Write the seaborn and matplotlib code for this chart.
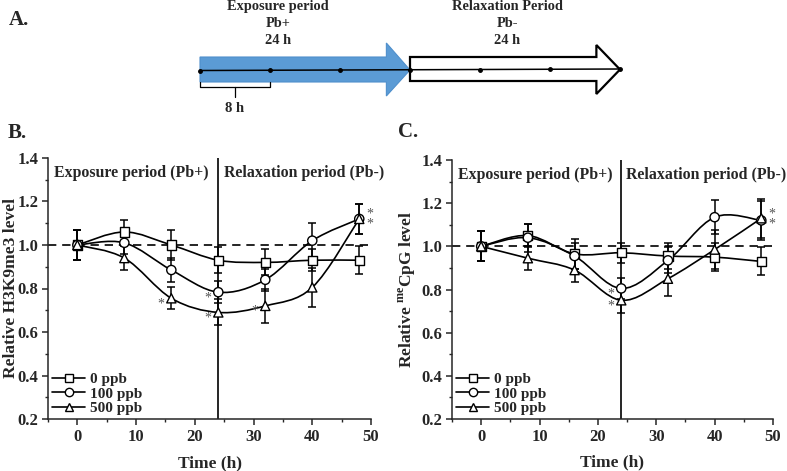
import numpy as np
import pandas as pd
import matplotlib
matplotlib.use("Agg")
import matplotlib.pyplot as plt
import seaborn as sns
from matplotlib.path import Path
from matplotlib.patches import PathPatch, Polygon
from matplotlib.lines import Line2D
from matplotlib.ticker import MultipleLocator

# ---- data ----
time_h = [0, 8, 16, 24, 32, 40, 48]
doses = ["0 ppb", "100 ppb", "500 ppb"]

# panel B: relative H3K9me3 level
h3k9_0 = [1.00, 1.06, 1.00, 0.93, 0.92, 0.93, 0.93]
h3k9_0_sd = [0.07, 0.055, 0.067, 0.06, 0.06, 0.05, 0.065]
h3k9_100 = [1.00, 1.01, 0.885, 0.783, 0.84, 1.02, 1.12]
h3k9_100_sd = [0.07, 0.05, 0.055, 0.05, 0.05, 0.08, 0.07]
h3k9_500 = [1.00, 0.94, 0.755, 0.69, 0.72, 0.805, 1.12]
h3k9_500_sd = [0.07, 0.055, 0.05, 0.06, 0.08, 0.09, 0.07]

# panel C: relative meCpG level
mecpg_0 = [1.00, 1.05, 0.965, 0.97, 0.955, 0.95, 0.93]
mecpg_0_sd = [0.07, 0.055, 0.07, 0.045, 0.06, 0.065, 0.065]
mecpg_100 = [1.00, 1.04, 0.955, 0.805, 0.935, 1.135, 1.12]
mecpg_100_sd = [0.07, 0.065, 0.06, 0.05, 0.06, 0.08, 0.09]
mecpg_500 = [1.00, 0.945, 0.89, 0.75, 0.85, 0.985, 1.13]
mecpg_500_sd = [0.07, 0.055, 0.055, 0.06, 0.08, 0.09, 0.09]

# significant points: marked left of the marker, and paired marks right of the last point
sig_left_b = [(16, "500 ppb"), (24, "100 ppb"), (24, "500 ppb"), (32, "500 ppb")]
sig_right_b = [(48, ["100 ppb", "500 ppb"])]
sig_left_c = [(24, "100 ppb"), (24, "500 ppb")]
sig_right_c = [(48, ["500 ppb", "100 ppb"])]

markers = {"0 ppb": "s", "100 ppb": "o", "500 ppb": "^"}


def make_frame(vals, sds):
    rows = []
    for dose, v, s in zip(doses, vals, sds):
        for t, a, b in zip(time_h, v, s):
            rows.append({"time": t, "level": a, "sd": b, "dose": dose})
    return pd.DataFrame(rows)


df_b = make_frame([h3k9_0, h3k9_100, h3k9_500], [h3k9_0_sd, h3k9_100_sd, h3k9_500_sd])
df_c = make_frame([mecpg_0, mecpg_100, mecpg_500], [mecpg_0_sd, mecpg_100_sd, mecpg_500_sd])

# ---- style ----
sns.set_theme(style="ticks")
plt.rcParams["font.family"] = ["Liberation Serif", "DejaVu Serif"]
plt.rcParams["font.weight"] = "bold"
plt.rcParams["axes.labelweight"] = "bold"
plt.rcParams["mathtext.fontset"] = "custom"
plt.rcParams["mathtext.rm"] = "Liberation Serif:bold"
plt.rcParams["mathtext.bf"] = "Liberation Serif:bold"
plt.rcParams["axes.linewidth"] = 1.1


def smooth_curve(ax, x, y, **kw):
    # Catmull-Rom through the points, drawn as cubic Bezier path
    pts = np.column_stack([x, y]).astype(float)
    ext = np.vstack([pts[0], pts, pts[-1]])
    verts = [pts[0]]
    codes = [Path.MOVETO]
    for i in range(1, len(ext) - 2):
        p0, p1, p2, p3 = ext[i - 1], ext[i], ext[i + 1], ext[i + 2]
        verts += [p1 + (p2 - p0) / 6, p2 - (p3 - p1) / 6, p2]
        codes += [Path.CURVE4] * 3
    ax.add_patch(PathPatch(Path(verts, codes), fill=False, **kw))


def level_at(df, t, dose):
    return df[(df["time"] == t) & (df["dose"] == dose)]["level"].iloc[0]


def draw_panel(ax, df, ylabel, sig_left, sig_right):
    ax.axhline(1.0, color="black", lw=1.2, ls=(0, (5, 3.5)), zorder=1)
    ax.axvline(24, color="black", lw=1.2, zorder=1)
    for dose in doses:
        d = df[df["dose"] == dose]
        ax.errorbar(d["time"], d["level"], yerr=d["sd"], fmt="none",
                    ecolor="black", elinewidth=1.1, capsize=3, capthick=1.1, zorder=2)
        smooth_curve(ax, d["time"], d["level"], color="black", lw=1.2, zorder=3)
    sns.scatterplot(data=df, x="time", y="level", style="dose", markers=markers,
                    color="white", edgecolor="black", linewidth=1.0, s=44,
                    legend=False, ax=ax, zorder=4)
    for t, dose in sig_left:
        v = level_at(df, t, dose)
        ax.text(t - 1.8, v - 0.025, "*", color="#555555", fontsize=10,
                ha="center", va="center", fontweight="normal")
    for t, pair in sig_right:
        v = np.mean([level_at(df, t, d) for d in pair])
        ax.text(t + 1.8, v, "*\n*", color="#555555", fontsize=10, linespacing=0.7,
                ha="center", va="center", fontweight="normal", clip_on=False)
    ax.text(9.2, 1.33, "Exposure period (Pb+)", ha="center", va="center", fontsize=11.4)
    ax.text(38.6, 1.33, "Relaxation period (Pb-)", ha="center", va="center",
            fontsize=11.4, clip_on=False)

    ax.set_xlim(-5, 50)
    ax.set_ylim(0.2, 1.4)
    ax.xaxis.set_major_locator(MultipleLocator(10))
    ax.xaxis.set_minor_locator(MultipleLocator(5))
    ax.yaxis.set_major_locator(MultipleLocator(0.2))
    ax.yaxis.set_minor_locator(MultipleLocator(0.1))
    ax.tick_params(which="major", direction="out", length=4, width=1.1, labelsize=12, pad=3)
    ax.tick_params(which="minor", direction="out", length=2.5, width=1.0)
    ax.set_yticklabels([f"{v:.1f}" for v in ax.get_yticks()])
    sns.despine(ax=ax)
    ax.set_xlabel("Time (h)", fontsize=12.5)
    ax.set_ylabel(ylabel, fontsize=12.5)
    ax.xaxis.set_label_coords(0.5, -0.138)

    handles = [Line2D([], [], color="black", lw=1.2, marker=markers[d], ms=6,
                      mfc="white", mec="black", mew=1.0) for d in doses]
    ax.legend(handles, doses, loc="lower left", frameon=False, fontsize=11,
              handlelength=2.2, handletextpad=0.3, labelspacing=0.05,
              borderaxespad=0.15, borderpad=0.1)


fig = plt.figure(figsize=(7.87, 4.71), dpi=100)

# ---- panel A: schematic timeline ----
px_per_h = 8.75
ax_a = fig.add_axes([0, 0, 1, 1], zorder=-1)
ax_a.set_xlim(-200 / px_per_h, 587 / px_per_h)
ax_a.set_ylim(471, 0)
ax_a.axis("off")
blue = [(0, 57), (21.3, 57), (21.3, 43), (24, 70), (21.3, 96), (21.3, 82), (0, 82)]
ax_a.add_patch(Polygon(blue, closed=True, facecolor="#5b9bd5", edgecolor="#4f8fcc", lw=0.8))
white = [(24, 57), (45.3, 57), (45.3, 45), (48, 69.5), (45.3, 94), (45.3, 81), (24, 81)]
ax_a.add_patch(Polygon(white, closed=True, facecolor="white", edgecolor="black", lw=1.6))
ax_a.plot([0, 48], [70.5, 69], color="black", lw=1.1)
ax_a.plot(time_h, np.linspace(70.5, 69, len(time_h)), "o", color="black", ms=2.5)
ax_a.plot([0, 0, 8, 8], [82, 87, 87, 82], color="black", lw=0.9)
ax_a.plot([4, 4], [87, 97], color="black", lw=0.9)
ax_a.text(4, 112, "8 h", ha="center", va="baseline", fontsize=10.5)
for cx, lines in [(8.9, ["Exposure period", "Pb+", "24 h"]),
                  (35.1, ["Relaxation Period", "Pb-", "24 h"])]:
    for yb, s in zip([10, 27, 44], lines):
        ax_a.text(cx, yb, s, ha="center", va="baseline", fontsize=10.4)

fig.text(9 / 787, 1 - 25 / 471, "A.", fontsize=15, va="baseline")
fig.text(8 / 787, 1 - 138 / 471, "B.", fontsize=15, va="baseline")
fig.text(398 / 787, 1 - 137 / 471, "C.", fontsize=15, va="baseline")

# ---- panels B and C ----
ax_b = fig.add_axes([48 / 787, 1 - 419 / 471, 323 / 787, 261 / 471])
draw_panel(ax_b, df_b, "Relative H3K9me3 level", sig_left_b, sig_right_b)
ax_b.yaxis.set_label_coords(-0.09, 0.5)

ax_c = fig.add_axes([452 / 787, 1 - 419 / 471, 321 / 787, 259 / 471])
draw_panel(ax_c, df_c, r"Relative $^{\mathrm{me}}$CpG level", sig_left_c, sig_right_c)
ax_c.yaxis.set_label_coords(-0.106, 0.5)

fig.savefig("out.png", dpi=100)
